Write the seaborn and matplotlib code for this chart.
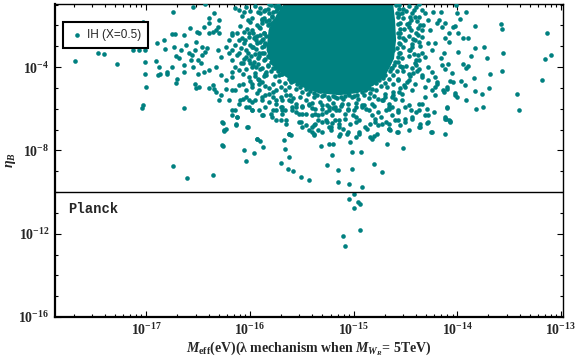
import matplotlib
matplotlib.use("Agg")
import matplotlib.pyplot as plt
import matplotlib.ticker as mticker
import numpy as np
import pandas as pd
import seaborn as sns

TEAL = "#008080"

# ── Data: (log10 M_eff [eV], log10 eta_B) ──────────────────────────────────────

left_wing = [
    (-17.69, -3.71), (-17.47, -3.30), (-17.41, -3.39), (-17.28, -3.83), (-17.13, -3.18),
    (-17.07, -3.18), (-17.01, -3.18), (-17.03, -1.82), (-17.01, -3.76), (-17.01, -4.31),
    (-17.00, -4.95), (-17.03, -5.80), (-17.04, -5.94), (-16.90, -2.86), (-16.83, -2.70),
    (-16.82, -3.14), (-16.91, -3.71), (-16.88, -3.99), (-16.89, -4.39), (-16.87, -4.35),
    (-16.80, -4.23), (-16.80, -4.34), (-16.74, -1.34), (-16.75, -2.43), (-16.72, -2.43),
    (-16.73, -3.02), (-16.71, -3.47), (-16.68, -3.54), (-16.75, -3.99), (-16.70, -4.55),
    (-16.71, -4.75), (-16.64, -5.94), (-16.64, -2.46), (-16.64, -3.90), (-16.64, -4.23),
    (-16.55, -1.10), (-16.52, -2.78), (-16.51, -2.33), (-16.58, -2.14), (-16.53, -3.18),
    (-16.59, -3.34), (-16.56, -3.42), (-16.53, -4.79), (-16.52, -4.98), (-16.43, -0.99),
    (-16.46, -3.42), (-16.43, -3.26), (-16.47, -3.82), (-16.50, -3.66), (-16.50, -4.34),
    (-16.44, -4.23), (-16.39, -1.90), (-16.35, -1.39), (-16.39, -2.38), (-16.36, -2.30),
    (-16.33, -2.22), (-16.30, -2.38), (-16.36, -4.87), (-16.35, -5.03), (-16.33, -5.19),
    (-16.28, -5.35), (-16.14, -1.18), (-16.11, -1.26), (-16.06, -1.34), (-16.04, -1.13),
]

lower_tail = [
    (-16.74, -8.75), (-16.61, -9.31), (-16.36, -9.19), (-16.26, -6.68), (-16.23, -6.95),
    (-16.25, -7.03), (-16.27, -7.75), (-16.26, -7.78), (-16.12, -6.39), (-16.13, -6.74),
    (-16.02, -6.90), (-16.06, -7.99), (-16.04, -8.51), (-15.96, -8.12), (-15.93, -7.43),
    (-15.90, -7.56), (-15.87, -7.83), (-15.98, -6.07), (-15.88, -6.31), (-15.79, -6.39),
    (-15.70, -8.59), (-15.67, -7.51), (-15.66, -7.91), (-15.63, -8.87), (-15.58, -8.99),
    (-15.62, -8.31), (-15.62, -7.19), (-15.60, -7.27), (-15.65, -6.55), (-15.51, -9.27),
    (-15.43, -9.43), (-15.31, -7.77), (-15.24, -7.70), (-15.20, -7.67), (-15.21, -8.20),
    (-15.26, -8.68), (-15.15, -8.92), (-15.15, -9.50), (-15.51, -6.63), (-15.46, -6.79),
    (-15.40, -6.87), (-15.37, -6.71), (-15.30, -6.63), (-15.21, -6.68), (-15.14, -6.55),
    (-15.14, -6.87), (-15.13, -7.19), (-15.14, -7.32), (-15.38, -7.19), (-15.50, -6.23),
    (-15.37, -6.23), (-15.56, -6.15), (-15.59, -5.91), (-15.66, -6.07), (-15.70, -5.91),
    (-15.62, -5.59), (-15.43, -5.83), (-15.27, -6.15), (-15.17, -6.07), (-15.08, -6.23),
    (-15.02, -8.07), (-14.93, -8.07), (-15.03, -7.59), (-15.02, -8.87), (-15.04, -9.59),
    (-14.92, -9.75), (-14.80, -8.63), (-14.73, -9.03), (-14.68, -7.67), (-14.52, -7.88),
    (-14.82, -7.43), (-14.80, -7.32), (-14.95, -7.19), (-14.98, -7.35), (-14.77, -7.19),
    (-14.66, -6.95), (-14.65, -7.03), (-14.58, -7.11), (-14.55, -6.79), (-14.47, -7.03),
    (-14.37, -6.87), (-14.29, -6.68), (-14.24, -7.14), (-14.12, -7.19), (-14.12, -6.42),
    (-14.07, -6.58), (-14.22, -6.15), (-15.40, -7.11), (-15.38, -7.27), (-15.34, -7.03),
    (-15.30, -6.23), (-15.27, -6.55), (-15.24, -6.87), (-15.22, -7.03), (-15.08, -6.47),
    (-15.05, -7.11), (-14.98, -6.39), (-14.95, -6.55), (-14.87, -6.95), (-14.79, -6.47),
    (-14.40, -6.15), (-14.37, -6.07), (-14.31, -6.31), (-14.69, -6.63), (-14.76, -6.79),
    (-14.84, -6.71), (-14.74, -6.39), (-14.63, -6.31), (-14.57, -6.55), (-14.50, -6.47),
    (-14.34, -5.75), (-14.47, -5.83), (-14.66, -5.99), (-14.76, -6.15),
]

under_core = [
    (-16.27, -6.66), (-16.25, -7.06), (-16.12, -6.39), (-16.13, -6.76), (-16.03, -6.90),
    (-15.98, -6.07), (-15.93, -7.43), (-15.87, -6.31), (-15.80, -6.23), (-15.75, -6.52),
    (-15.70, -6.55), (-15.65, -6.71), (-15.62, -7.19), (-15.53, -6.63), (-15.50, -6.87),
    (-15.43, -7.03), (-15.38, -6.79), (-15.34, -6.55), (-15.30, -7.11), (-15.26, -6.63),
    (-15.22, -6.87), (-15.18, -6.55), (-15.14, -6.71), (-15.10, -6.95), (-15.06, -7.19),
    (-15.03, -6.71), (-14.98, -6.63), (-14.95, -7.11), (-14.89, -6.87), (-14.84, -7.35),
    (-14.79, -6.63), (-14.73, -6.71), (-14.66, -6.95), (-14.57, -7.11), (-14.50, -6.63),
    (-14.44, -6.39), (-14.36, -6.87), (-14.28, -6.63), (-14.25, -7.11), (-14.12, -6.47),
    (-14.10, -5.91), (-14.07, -6.63), (-14.02, -5.35), (-15.56, -5.75), (-15.50, -5.91),
    (-15.43, -5.75), (-15.37, -5.99), (-15.30, -5.83), (-15.24, -6.07), (-15.18, -5.91),
    (-15.11, -5.75), (-15.05, -6.07), (-14.98, -5.91), (-14.92, -5.83), (-14.85, -6.07),
    (-15.53, -6.23), (-15.40, -6.31), (-15.21, -6.31), (-15.01, -6.31), (-14.82, -6.31),
    (-14.69, -6.07), (-14.63, -5.91), (-14.57, -6.15), (-14.50, -5.91), (-15.69, -5.91),
    (-15.75, -5.75), (-15.82, -5.67),
]

right_wing = [
    (-14.01, -1.02), (-14.00, -1.42), (-13.92, -1.34), (-13.97, -1.71), (-13.83, -2.01),
    (-13.58, -1.95), (-13.57, -2.19), (-13.13, -2.38), (-13.10, -3.44), (-13.15, -3.63),
    (-13.18, -4.64), (-13.42, -5.27), (-13.40, -6.04), (-13.56, -3.34), (-13.57, -4.19),
    (-13.68, -4.31), (-13.69, -4.98), (-13.71, -3.54), (-13.74, -3.02), (-13.83, -3.10),
    (-13.87, -3.46), (-13.90, -2.62), (-13.94, -2.62), (-13.99, -2.38), (-14.02, -2.01),
    (-14.04, -2.06), (-13.99, -3.26), (-13.84, -4.51), (-13.83, -5.16), (-13.76, -5.28),
    (-13.75, -5.91), (-13.82, -5.99), (-13.90, -3.94), (-13.92, -4.02), (-13.94, -3.83),
    (-13.96, -4.67), (-13.93, -4.85), (-13.92, -5.56), (-14.00, -5.43), (-14.02, -5.24),
    (-14.10, -5.03), (-14.14, -5.08), (-14.21, -5.36), (-14.05, -4.26), (-14.07, -4.67),
    (-14.04, -4.71), (-14.10, -4.95), (-14.09, -3.83), (-14.12, -4.07), (-14.15, -3.90),
    (-14.16, -3.58), (-14.13, -3.34), (-14.08, -2.78), (-14.12, -2.62), (-14.08, -2.38),
    (-14.15, -2.06), (-14.20, -1.90), (-14.18, -1.74), (-14.23, -1.34), (-14.16, -1.34),
    (-14.12, -1.90), (-14.10, -5.94), (-14.11, -6.47), (-14.08, -6.55), (-14.29, -5.99),
    (-14.28, -6.31), (-14.36, -6.71), (-14.44, -6.47), (-14.45, -6.07), (-14.37, -5.75),
    (-14.31, -5.43), (-14.24, -5.11), (-14.20, -4.79), (-14.21, -4.47), (-14.28, -4.63),
    (-14.31, -4.95), (-14.34, -4.39), (-14.37, -4.07), (-14.28, -3.99), (-14.24, -4.23),
    (-14.31, -3.50), (-14.24, -3.18), (-14.28, -2.86), (-14.34, -2.54), (-14.21, -2.86),
    (-14.26, -2.22), (-14.33, -1.98), (-14.37, -1.58), (-14.31, -1.42), (-14.44, -1.42),
    (-14.47, -1.90), (-14.40, -2.38), (-14.44, -3.02), (-14.40, -3.66), (-14.47, -4.31),
    (-14.50, -4.95), (-14.53, -5.59), (-14.57, -6.07), (-14.60, -6.55), (-14.66, -6.71),
    (-14.50, -2.70), (-14.53, -3.99), (-14.57, -4.63), (-14.63, -5.43), (-14.66, -5.91),
    (-14.21, -4.95), (-14.20, -4.71), (-14.13, -5.19),
]

core_fringe = [
    (-16.46, -3.02), (-16.41, -3.10), (-16.31, -3.18), (-16.28, -3.50), (-16.23, -3.02),
    (-16.20, -3.34), (-16.17, -3.66), (-16.12, -3.42), (-16.09, -3.82), (-16.11, -4.15),
    (-16.17, -4.47), (-16.23, -4.63), (-16.28, -4.39), (-16.33, -3.99), (-16.39, -4.15),
    (-16.49, -4.95), (-16.39, -4.98), (-16.23, -5.03), (-16.17, -5.11), (-16.11, -4.87),
    (-16.04, -5.11), (-15.98, -4.79), (-15.91, -4.63), (-15.85, -4.31), (-15.88, -5.43),
    (-15.95, -5.59), (-16.01, -5.59), (-16.07, -5.51), (-16.11, -5.75), (-16.20, -5.59),
    (-16.30, -5.59), (-16.17, -6.07), (-16.04, -5.91), (-15.85, -5.91), (-15.75, -6.07),
    (-15.69, -6.23), (-15.95, -2.54), (-15.98, -2.22), (-15.91, -2.06), (-15.88, -1.74),
    (-15.82, -1.42), (-15.79, -1.90), (-16.01, -2.38), (-16.11, -2.70), (-16.17, -2.38),
    (-16.20, -2.70), (-16.30, -1.74), (-16.39, -1.66), (-16.31, -2.06), (-16.44, -2.06),
    (-16.49, -2.38), (-16.62, -2.94), (-16.66, -3.18), (-16.57, -3.66), (-16.55, -3.99),
    (-16.04, -3.50), (-15.98, -3.99), (-15.91, -3.34), (-15.85, -2.86), (-15.91, -5.11),
    (-15.75, -5.11), (-15.69, -5.59), (-15.59, -6.07), (-15.98, -1.66), (-15.90, -1.42),
    (-15.85, -1.26), (-15.78, -1.34), (-15.72, -1.10), (-15.82, -1.74), (-15.88, -1.90),
    (-16.17, -2.46), (-16.12, -2.38), (-16.06, -2.30), (-16.01, -2.54), (-16.06, -2.86),
    (-16.14, -2.94), (-16.17, -3.18), (-16.11, -3.34), (-16.04, -3.18), (-15.98, -3.02),
    (-15.94, -2.70), (-16.01, -3.66), (-16.07, -3.82), (-16.14, -3.99), (-16.17, -4.23),
    (-16.07, -4.31), (-16.01, -4.47), (-15.94, -3.99), (-15.91, -4.79), (-15.98, -4.95),
    (-16.07, -4.79), (-16.14, -5.11), (-16.04, -5.43), (-16.10, -5.59), (-15.98, -5.67),
    (-15.88, -5.59), (-15.82, -5.27), (-15.75, -5.59), (-15.69, -6.07), (-15.56, -5.91),
    (-15.78, -6.07), (-15.91, -6.07), (-16.01, -5.91), (-16.14, -6.07), (-16.17, -6.31),
    (-15.46, -6.23), (-15.34, -6.31), (-15.24, -5.91), (-15.14, -6.07), (-15.05, -5.99),
    (-14.92, -5.91), (-14.82, -5.75), (-14.73, -5.59), (-14.66, -5.75), (-14.60, -5.51),
    (-14.53, -5.27), (-14.44, -5.11), (-14.41, -4.79), (-14.34, -4.47), (-14.47, -4.63),
    (-14.53, -3.99), (-14.41, -3.82), (-14.34, -3.34), (-14.47, -3.18), (-14.41, -2.70),
    (-14.34, -2.22), (-14.47, -2.06), (-14.41, -1.58), (-14.34, -1.26), (-14.53, -1.42),
    (-14.28, -1.74), (-16.08, -1.55), (-16.02, -1.75), (-16.10, -2.05), (-15.97, -2.35),
    (-16.08, -2.60), (-16.00, -2.95), (-16.09, -3.10), (-15.99, -3.45), (-16.06, -3.60),
    (-15.97, -3.90), (-16.04, -4.10), (-15.95, -4.45), (-16.00, -4.65), (-15.88, -4.70),
    (-15.82, -5.00), (-15.93, -5.25), (-15.85, -5.35), (-15.78, -5.45), (-15.65, -5.35),
    (-15.58, -5.50), (-14.42, -1.25), (-14.45, -1.75), (-14.38, -2.10), (-14.43, -2.65),
    (-14.37, -2.80), (-14.42, -3.35), (-14.37, -3.65), (-14.44, -4.05), (-14.39, -4.20),
    (-14.46, -4.45), (-14.51, -4.85), (-14.56, -5.20), (-14.62, -5.35), (-14.70, -5.45),
    (-14.76, -5.55), (-15.95, -1.05), (-16.00, -1.30), (-15.90, -1.15),
]

# ragged rim of the dense cloud
core_rim = [
    (-15.76, -1.05), (-15.83, -1.20), (-15.86, -1.62), (-15.84, -1.80), (-15.93, -1.98),
    (-15.90, -2.45), (-15.96, -2.60), (-15.93, -2.85), (-15.97, -3.05), (-15.95, -3.35),
    (-15.92, -3.55), (-15.96, -3.75), (-15.90, -4.10), (-15.84, -4.25), (-15.86, -4.45),
    (-15.78, -4.80), (-15.70, -4.95), (-15.66, -5.10), (-15.61, -5.35), (-15.52, -5.42),
    (-15.46, -5.60), (-15.40, -5.72), (-15.32, -5.66), (-15.26, -5.82), (-15.20, -5.74),
    (-15.12, -5.86), (-15.05, -5.76), (-14.98, -5.72), (-14.90, -5.80), (-14.85, -5.50),
    (-14.80, -5.40), (-14.70, -5.30), (-14.68, -4.95), (-14.62, -4.80), (-14.57, -4.55),
    (-14.52, -4.20), (-14.49, -3.95), (-14.47, -3.45), (-14.46, -3.20), (-14.44, -2.90),
    (-14.47, -2.50), (-14.45, -2.20), (-14.48, -1.95), (-14.46, -1.60), (-14.49, -1.30),
    (-14.47, -1.05), (-15.82, -0.95), (-15.92, -1.35), (-16.00, -1.85), (-16.03, -2.15),
    (-16.05, -2.70), (-16.02, -3.30), (-16.00, -3.80), (-15.95, -4.30), (-15.92, -4.55),
    (-15.85, -4.90), (-15.78, -5.20), (-15.70, -5.45), (-15.60, -5.65), (-15.50, -5.85),
    (-15.40, -5.95), (-15.30, -6.00), (-15.20, -5.98), (-15.00, -6.05), (-14.88, -6.00),
    (-14.80, -5.85), (-14.72, -5.60), (-14.62, -5.20), (-14.55, -5.00), (-14.48, -4.70),
    (-14.43, -4.30), (-14.40, -3.90), (-14.38, -3.40), (-14.36, -3.00), (-14.38, -2.45),
    (-14.36, -2.00), (-14.39, -1.80), (-14.40, -1.10), (-14.37, -0.98),
    (-15.80, -1.00), (-15.74, -1.20), (-15.86, -1.30), (-15.79, -1.55), (-15.88, -1.70),
    (-15.83, -2.00), (-15.90, -2.10), (-15.86, -2.35), (-15.93, -2.50), (-15.87, -2.65),
    (-15.90, -2.80), (-15.86, -3.00), (-15.94, -3.15), (-15.88, -3.30), (-15.91, -3.45),
    (-15.86, -3.65), (-15.92, -3.85), (-15.83, -3.95), (-15.88, -4.05), (-15.80, -4.20),
    (-15.84, -4.38), (-15.76, -4.45), (-15.72, -4.65), (-15.66, -4.75), (-15.62, -4.95),
    (-15.56, -5.05), (-15.50, -5.20), (-15.44, -5.30), (-15.38, -5.42), (-15.30, -5.38),
    (-15.24, -5.52), (-15.18, -5.45), (-15.10, -5.55), (-15.02, -5.45), (-14.96, -5.52),
    (-14.90, -5.35), (-14.84, -5.25), (-14.78, -5.08), (-14.74, -4.90), (-14.70, -4.75),
    (-14.66, -4.55), (-14.62, -4.40), (-14.58, -4.20), (-14.55, -3.95), (-14.57, -3.75),
    (-14.53, -3.55), (-14.55, -3.30), (-14.52, -3.05), (-14.56, -2.85), (-14.52, -2.60),
    (-14.55, -2.35), (-14.51, -2.15), (-14.55, -1.90), (-14.52, -1.65), (-14.56, -1.45),
    (-14.52, -1.20), (-14.56, -1.00), (-15.70, -4.35), (-15.60, -4.65), (-15.45, -5.00),
    (-15.32, -5.15), (-15.05, -5.25), (-14.88, -5.05), (-14.72, -4.50), (-14.64, -4.05),
    (-14.62, -3.20), (-14.63, -2.40), (-14.64, -1.50), (-15.76, -1.75), (-15.80, -2.60),
    (-15.82, -3.50), (-15.78, -4.05),
]

# dots sitting right on the edge of the saturated cloud
core_edge = [
    (-15.71, -1.10), (-15.75, -1.30), (-15.73, -1.02), (-15.79, -1.60), (-15.77, -1.80),
    (-15.82, -1.95), (-15.80, -2.10), (-15.86, -2.35), (-15.84, -2.50), (-15.88, -2.70),
    (-15.85, -2.90), (-15.88, -3.05), (-15.86, -3.30), (-15.83, -3.45), (-15.85, -3.60),
    (-15.80, -3.75), (-15.83, -3.88), (-15.76, -4.05), (-15.73, -4.20), (-15.69, -4.32),
    (-15.72, -4.40), (-15.62, -4.55), (-15.58, -4.68), (-15.55, -4.80), (-15.52, -4.95),
    (-15.60, -4.72), (-15.46, -5.05), (-15.42, -5.16), (-15.38, -5.25), (-15.35, -5.35),
    (-15.29, -5.35), (-15.25, -5.42), (-15.20, -5.38), (-15.16, -5.46), (-15.12, -5.42),
    (-15.08, -5.40), (-15.04, -5.36), (-15.00, -5.38), (-14.97, -5.33), (-14.92, -5.20),
    (-14.89, -5.10), (-14.85, -5.02), (-14.82, -5.05), (-14.78, -4.78), (-14.75, -4.62),
    (-14.73, -4.48), (-14.70, -4.40), (-14.65, -4.20), (-14.63, -4.05), (-14.61, -3.90),
    (-14.60, -3.75), (-14.57, -3.50), (-14.56, -3.30), (-14.58, -3.10), (-14.55, -2.90),
    (-14.56, -2.55), (-14.57, -2.35), (-14.55, -2.15), (-14.57, -1.95), (-14.57, -1.60),
    (-14.58, -1.40), (-14.56, -1.20), (-14.59, -1.02),
]

below_planck = [
    (-15.04, -10.32), (-15.00, -10.08), (-14.96, -10.48), (-14.94, -10.59),
    (-15.00, -10.75), (-14.94, -11.81), (-15.10, -12.13), (-15.08, -12.61),
]

# outline of the saturated central cloud, same log10 units
core_outline_x = [-15.66, -15.74, -15.82, -15.84, -15.79, -15.66, -15.50, -15.34,
                  -15.14, -14.96, -14.81, -14.68, -14.61, -14.59, -14.60, -14.62]
core_outline_y = [-0.88, -1.45, -2.22, -3.18, -3.90, -4.45, -4.95, -5.25,
                  -5.35, -5.25, -4.90, -4.30, -3.60, -2.70, -1.74, -0.88]

planck_eta = 1e-10
x_major_exp = [-17, -16, -15, -14, -13]
y_major_exp = [-16, -12, -8, -4]
x_range_exp = (-17.88, -12.98)
y_range_exp = (-16.0, -0.97)

# ── Styling ────────────────────────────────────────────────────────────────────

sns.set_style("ticks")
plt.rcParams["font.family"] = ["Liberation Serif", "DejaVu Serif"]
plt.rcParams["mathtext.fontset"] = "custom"
plt.rcParams["mathtext.rm"] = "Liberation Serif:bold"
plt.rcParams["mathtext.bf"] = "Liberation Serif:bold"
plt.rcParams["mathtext.it"] = "Liberation Serif:italic:bold"

points = (left_wing + lower_tail + under_core + right_wing + core_fringe
          + core_rim + core_edge + below_planck)
df = pd.DataFrame(points, columns=["log_meff", "log_eta"])
df["meff"] = 10.0 ** df["log_meff"]
df["eta"] = 10.0 ** df["log_eta"]

fig = plt.figure(figsize=(5.76, 3.61), dpi=100)
ax = fig.add_axes([55 / 576, 1 - 317 / 361, 508 / 576, 313 / 361])
ax.set_xscale("log")
ax.set_yscale("log")

ax.fill(10.0 ** np.array(core_outline_x), 10.0 ** np.array(core_outline_y),
        color=TEAL, linewidth=0, zorder=2)
sns.scatterplot(data=df, x="meff", y="eta", ax=ax, color=TEAL, s=11,
                linewidth=0, label="IH (X=0.5)", zorder=3)
ax.axhline(planck_eta, color="black", linewidth=1.0, zorder=4)

ax.set_xlim(10.0 ** x_range_exp[0], 10.0 ** x_range_exp[1])
ax.set_ylim(10.0 ** y_range_exp[0], 10.0 ** y_range_exp[1])


def pow_label(v, pos):
    return r"$\mathbf{10^{%d}}$" % round(np.log10(v))


ax.xaxis.set_major_locator(mticker.FixedLocator([10.0 ** e for e in x_major_exp]))
ax.xaxis.set_minor_locator(mticker.LogLocator(base=10, subs=np.arange(2, 10), numticks=30))
ax.yaxis.set_major_locator(mticker.FixedLocator([10.0 ** e for e in y_major_exp]))
ax.yaxis.set_minor_locator(mticker.LogLocator(base=10, subs=[1.0], numticks=40))
ax.xaxis.set_major_formatter(mticker.FuncFormatter(pow_label))
ax.yaxis.set_major_formatter(mticker.FuncFormatter(pow_label))
ax.xaxis.set_minor_formatter(mticker.NullFormatter())
ax.yaxis.set_minor_formatter(mticker.NullFormatter())

ax.tick_params(which="both", direction="in", top=True, right=True,
               color="black", width=0.8, labelsize=10)
ax.tick_params(which="major", length=4.5, pad=4)
ax.tick_params(which="minor", length=2.5)

for side in ["top", "right"]:
    ax.spines[side].set_linewidth(1.0)
for side in ["left", "bottom"]:
    ax.spines[side].set_linewidth(1.6)
for sp in ax.spines.values():
    sp.set_color("black")

ax.set_xlabel("$M_{\\mathrm{eff}}$(eV)(λ mechanism when $M_{W_R}$= 5TeV)",
              fontweight="bold", fontsize=10, labelpad=1)
ax.set_ylabel(r"$\eta_B$", fontsize=10, labelpad=0)

ax.text(0.025, 10.0 ** -10.83, "Planck", transform=ax.get_yaxis_transform(),
        family="Liberation Mono", fontweight="bold", fontsize=10, va="center")

leg = ax.legend(loc="upper left", bbox_to_anchor=(0.016, 0.943), borderaxespad=0,
                frameon=True, fancybox=False, edgecolor="black", framealpha=1,
                prop={"family": "Liberation Sans", "size": 8.5},
                handletextpad=0.2, handlelength=1.2, borderpad=0.6, markerscale=1.0)
leg.get_frame().set_linewidth(1.5)

fig.savefig("out.png", dpi=100)
